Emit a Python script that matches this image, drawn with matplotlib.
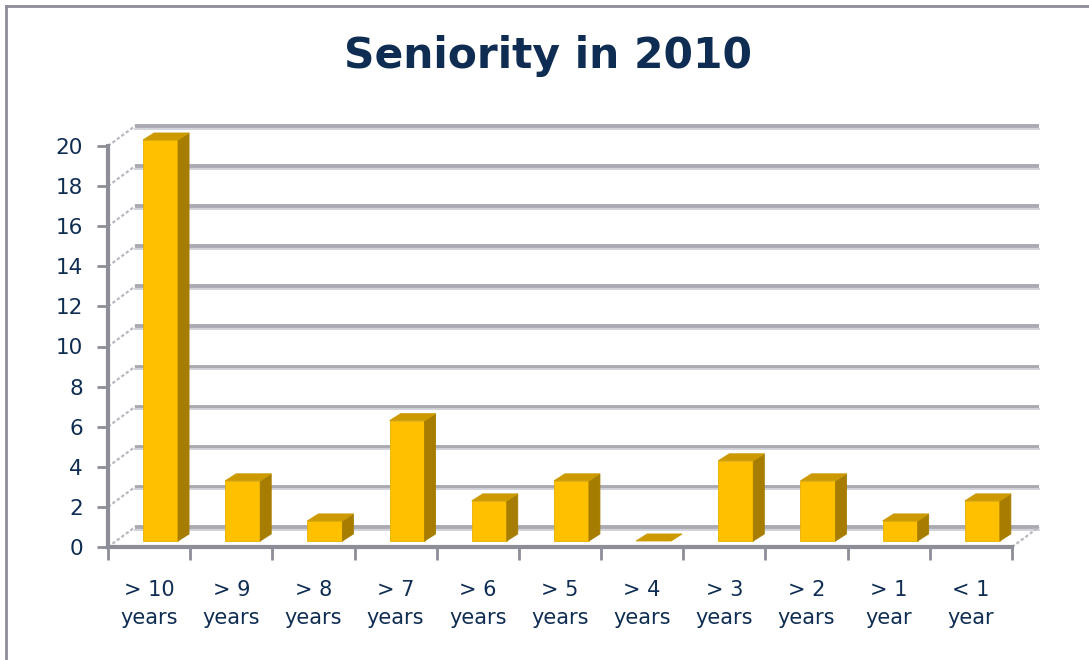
import numpy as np
import matplotlib
matplotlib.use("Agg")
import matplotlib.pyplot as plt
from matplotlib.patches import Polygon
from matplotlib.lines import Line2D

categories = ["> 10\nyears", "> 9\nyears", "> 8\nyears", "> 7\nyears", "> 6\nyears",
              "> 5\nyears", "> 4\nyears", "> 3\nyears", "> 2\nyears", "> 1\nyear", "< 1\nyear"]
values = [20, 3, 1, 6, 2, 3, 0, 4, 3, 1, 2]
yticks = list(range(0, 21, 2))

navy = "#0F2D52"
axis_gray = "#8C8D97"
grid_gray = "#A9AAB2"
front = "#FFC000"
side = "#A67D00"
top = "#CC9A00"

W, H = 1089, 660
fig = plt.figure(figsize=(W / 100, H / 100), dpi=100)

# outer frame (only left/top visible in reference)
fig.add_artist(Line2D([6 / W, 6 / W], [0, 1 - 6 / H], transform=fig.transFigure,
                      color=axis_gray, lw=2))
fig.add_artist(Line2D([6 / W, 1], [1 - 6 / H, 1 - 6 / H], transform=fig.transFigure,
                      color=axis_gray, lw=2))

fig.text(548 / W, 1 - 56 / H, "Seniority in 2010", ha="center", va="center",
         fontsize=30.5, fontweight="bold", color=navy)

ax = fig.add_axes([108 / W, (H - 547) / H, 904 / W, 401 / H])
n = len(values)
ax.set_xlim(-0.5, n - 0.5)
ax.set_ylim(0, 20)

# depth of the back wall in data units
dx, dy = 0.33, 1.0

# back wall grid lines and slanted side-wall lines
for v in yticks:
    ax.plot([-0.5 + dx, n - 0.5 + dx], [v + dy, v + dy], color=grid_gray, lw=2.8,
            solid_capstyle="butt", clip_on=False, zorder=1)
    ax.plot([-0.5 + dx, n - 0.5 + dx], [v + dy - 0.13, v + dy - 0.13], color="#D2D3D9",
            lw=1.4, clip_on=False, zorder=1)
    ax.plot([-0.5, -0.5 + dx], [v, v + dy], color="#B8B9C0", lw=1.6, ls=(0, (1.5, 1)),
            clip_on=False, zorder=1)
ax.plot([n - 0.5, n - 0.5 + dx], [0, dy], color="#B8B9C0", lw=1.6, ls=(0, (1.5, 1)),
        clip_on=False, zorder=1)

# pseudo-3D bars
bw = 0.426
bx0 = 0.139
by0 = 0.3
sdx, sdy = 0.134, 0.35
for i, v in enumerate(values):
    x0 = i + bx0 - bw / 2
    x1 = x0 + bw
    y0 = by0
    y1 = v + by0
    if v > 0:
        ax.add_patch(Polygon([(x0, y0), (x1, y0), (x1, y1), (x0, y1)], closed=True,
                             facecolor=front, edgecolor="#E8B000", lw=0.6, zorder=3,
                             clip_on=False))
        ax.add_patch(Polygon([(x1, y0), (x1 + sdx, y0 + sdy), (x1 + sdx, y1 + sdy), (x1, y1)],
                             closed=True, facecolor=side, edgecolor=side, lw=0.6, zorder=3,
                             clip_on=False))
    ax.add_patch(Polygon([(x0, y1), (x1, y1), (x1 + sdx, y1 + sdy), (x0 + sdx, y1 + sdy)],
                         closed=True, facecolor=top, edgecolor=top, lw=0.6, zorder=3,
                         clip_on=False))

for s in ["top", "right"]:
    ax.spines[s].set_visible(False)
for s in ["left", "bottom"]:
    ax.spines[s].set_color(axis_gray)
    ax.spines[s].set_linewidth(3)
    ax.spines[s].set_zorder(4)

ax.set_yticks(yticks)
ax.set_yticklabels([str(t) for t in yticks])
ax.tick_params(axis="y", length=8, width=2, color=axis_gray, labelsize=15.5,
               labelcolor=navy, pad=10)

ax.set_xticks(np.arange(-0.5, n, 1.0))
ax.set_xticklabels([])
ax.set_xticks(np.arange(n), minor=True)
ax.set_xticklabels(categories, minor=True)
ax.tick_params(axis="x", which="major", length=9, width=2, color=axis_gray)
ax.tick_params(axis="x", which="minor", length=0, labelsize=15, labelcolor=navy, pad=24)
for lab in ax.get_xticklabels(minor=True):
    lab.set_linespacing(1.45)

ax.patch.set_alpha(0)

fig.savefig("out.png", dpi=100)
